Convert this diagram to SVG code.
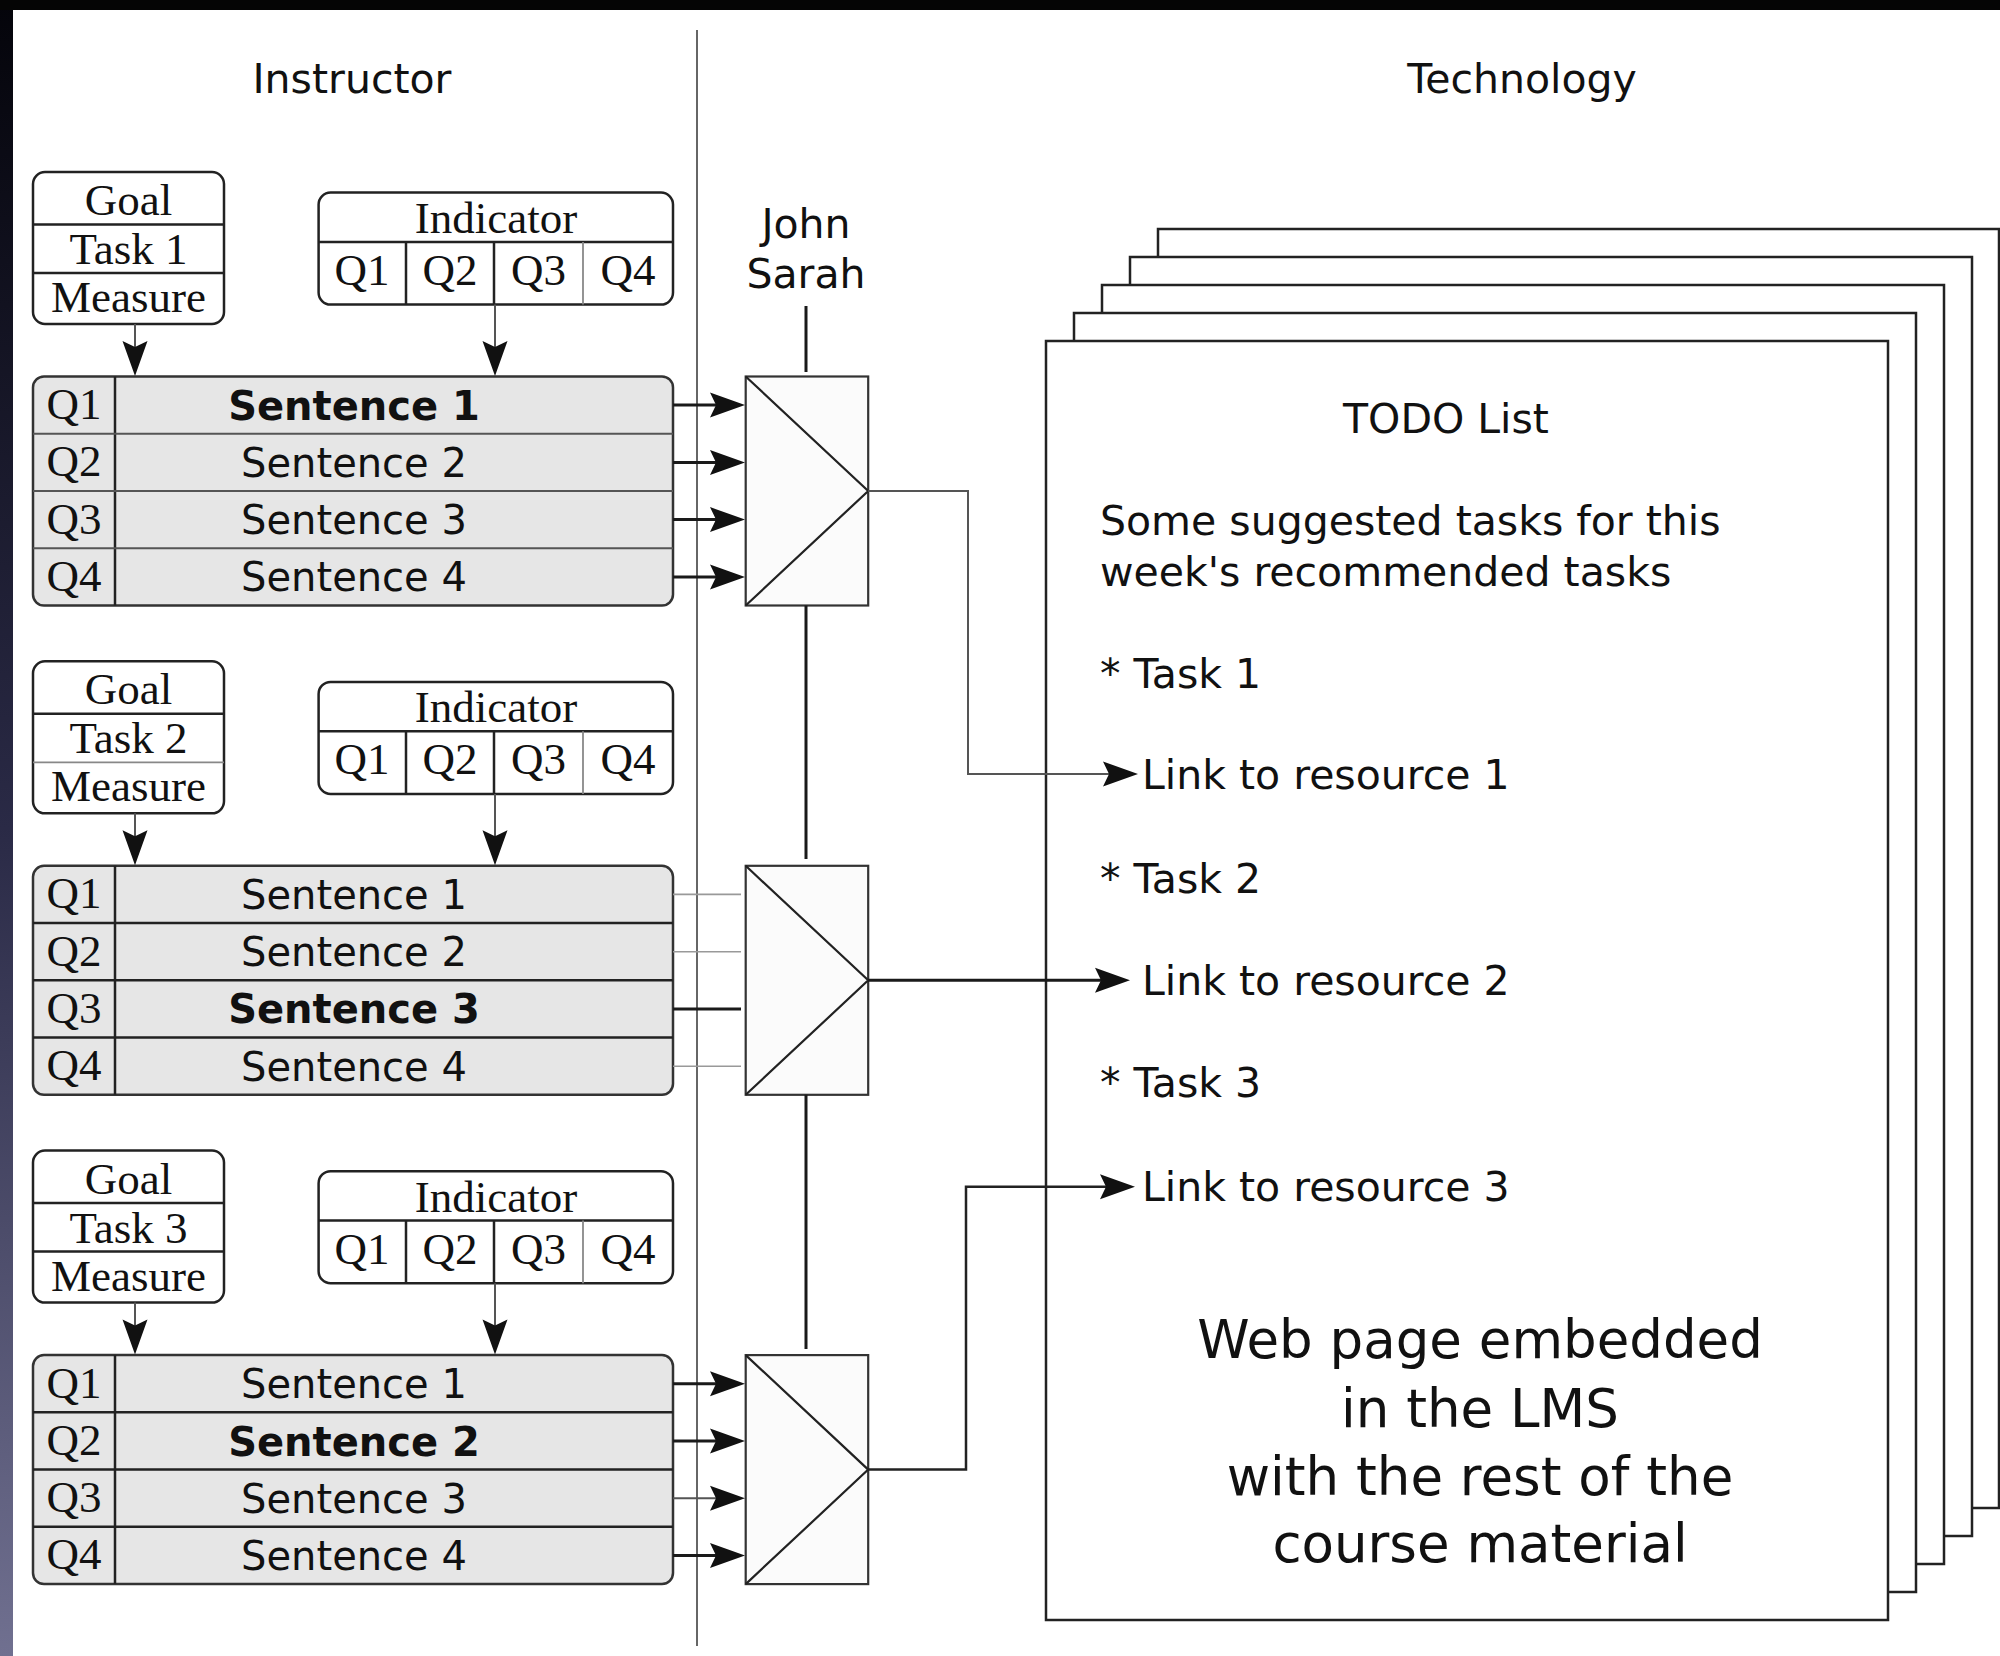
<svg xmlns="http://www.w3.org/2000/svg" width="2000" height="1656" viewBox="0 0 2000 1656">
<defs>
<style>
.sans{font-family:"DejaVu Sans",Verdana,sans-serif;fill:#111}
.serif{font-family:"Liberation Serif","Times New Roman",serif;font-size:45px;fill:#111}
.hdr{font-size:41px}
.sent{font-size:40px}
.big{font-size:53px}
.mid{text-anchor:middle}
.b{font-weight:bold}
.card{fill:#fff;stroke:#222;stroke-width:2.5}
.rule{stroke:#222;stroke-width:2.5;fill:none}
.soft{stroke:#888;stroke-width:1.8;fill:none}
.sbox{fill:#e6e6e6;stroke:#333;stroke-width:2.5}
.mux{fill:#fbfbfb;stroke:#333;stroke-width:2.2}
.tri{fill:none;stroke:#222;stroke-width:2.2}
.wire{stroke:#1a1a1a;stroke-width:3;fill:none}
.mwire{stroke:#222;stroke-width:2.5;fill:none}
.thin{stroke:#555;stroke-width:2;fill:none}
.faint{stroke:#999;stroke-width:1.6;fill:none}
.page{fill:#fff;stroke:#222;stroke-width:2.5}
</style>
<marker id="arr" markerUnits="userSpaceOnUse" viewBox="-30 -14 40 28" refX="0" refY="0" markerWidth="40" markerHeight="28" orient="auto">
<path d="M8,0 L-27,-12.5 L-21,0 L-27,12.5 Z" fill="#111"/>
</marker>
<linearGradient id="edge" x1="0" y1="0" x2="0" y2="1">
<stop offset="0" stop-color="#04040a"/>
<stop offset="0.5" stop-color="#2a2a46"/>
<stop offset="1" stop-color="#707090"/>
</linearGradient>
</defs>

<rect x="0" y="0" width="2000" height="1656" fill="#fff"/>
<rect x="0" y="0" width="13" height="1656" fill="url(#edge)"/>
<rect x="0" y="0" width="2000" height="10" fill="#050505"/>

<!-- lane headers and divider -->
<g id="lanes">
<line x1="697" y1="30" x2="697" y2="1646" stroke="#666" stroke-width="2"/>
<text class="sans hdr mid" x="352" y="93">Instructor</text>
<text class="sans hdr mid" x="1522" y="93">Technology</text>
</g>

<!-- stack of web pages -->
<g id="pages">
<rect class="page" x="1158" y="229" width="841" height="1279"/>
<rect class="page" x="1130" y="257" width="842" height="1279"/>
<rect class="page" x="1102" y="285" width="842" height="1279"/>
<rect class="page" x="1074" y="313" width="842" height="1279"/>
<rect class="page" x="1046" y="341" width="842" height="1279"/>
<text class="sans hdr mid" x="1446" y="433">TODO List</text>
<text class="sans hdr" x="1100" y="535">Some suggested tasks for this</text>
<text class="sans hdr" x="1100" y="586">week's recommended tasks</text>
<text class="sans hdr" x="1100" y="688">* Task 1</text>
<text class="sans hdr" x="1142" y="789">Link to resource 1</text>
<text class="sans hdr" x="1100" y="893">* Task 2</text>
<text class="sans hdr" x="1142" y="995">Link to resource 2</text>
<text class="sans hdr" x="1100" y="1097">* Task 3</text>
<text class="sans hdr" x="1142" y="1201">Link to resource 3</text>
<text class="sans big mid" x="1480" y="1358">Web page embedded</text>
<text class="sans big mid" x="1480" y="1427">in the LMS</text>
<text class="sans big mid" x="1480" y="1495">with the rest of the</text>
<text class="sans big mid" x="1480" y="1562">course material</text>
</g>

<!-- student selector label -->
<g id="students">
<text class="sans hdr mid" x="806" y="238">John</text>
<text class="sans hdr mid" x="806" y="288">Sarah</text>
</g>

<!-- ===== task 1 ===== -->
<g id="goal1">
<rect class="card" x="33" y="172" width="191" height="152" rx="12"/>
<path class="rule" d="M33,224.5 H224 M33,273 H224"/>
<text class="serif mid" x="128.5" y="215">Goal</text>
<text class="serif mid" x="128.5" y="264">Task 1</text>
<text class="serif mid" x="128.5" y="312">Measure</text>
</g>
<g id="indicator1">
<rect class="card" x="318.6" y="192.6" width="354.4" height="112" rx="12"/>
<path class="rule" d="M318.6,242 H673 M406,242 V304.6 M494,242 V304.6"/>
<path class="soft" d="M583,242 V304.6"/>
<text class="serif mid" x="496" y="233">Indicator</text>
<text class="serif mid" x="362" y="285">Q1</text>
<text class="serif mid" x="450" y="285">Q2</text>
<text class="serif mid" x="538.5" y="285">Q3</text>
<text class="serif mid" x="628" y="285">Q4</text>
</g>
<g id="sentences1">
<rect class="sbox" x="33" y="376.5" width="640" height="229" rx="11"/>
<path class="rule" d="M115,376.5 V605.5"/>
<path class="thin" d="M33,433.75 H673 M33,491 H673 M33,548.25 H673"/>
<text class="serif mid" x="74" y="419">Q1</text>
<text class="serif mid" x="74" y="476.3">Q2</text>
<text class="serif mid" x="74" y="533.5">Q3</text>
<text class="serif mid" x="74" y="590.8">Q4</text>
<text class="sans sent mid b" x="354" y="419.6">Sentence 1</text>
<text class="sans sent mid" x="354" y="476.9">Sentence 2</text>
<text class="sans sent mid" x="354" y="534.1">Sentence 3</text>
<text class="sans sent mid" x="354" y="591.4">Sentence 4</text>
</g>
<g id="mux1">
<rect class="mux" x="745.7" y="376.5" width="122.5" height="229"/>
<polyline class="tri" points="745.7,376.5 868.2,491 745.7,605.5"/>
</g>

<!-- ===== task 2 ===== -->
<g id="goal2">
<rect class="card" x="33" y="661.3" width="191" height="152" rx="12"/>
<path class="rule" d="M33,713.8 H224"/>
<path class="soft" d="M33,762.3 H224"/>
<text class="serif mid" x="128.5" y="704.3">Goal</text>
<text class="serif mid" x="128.5" y="753.3">Task 2</text>
<text class="serif mid" x="128.5" y="801.3">Measure</text>
</g>
<g id="indicator2">
<rect class="card" x="318.6" y="681.9" width="354.4" height="112" rx="12"/>
<path class="rule" d="M318.6,731.3 H673 M406,731.3 V793.9 M494,731.3 V793.9"/>
<path class="soft" d="M583,731.3 V793.9"/>
<text class="serif mid" x="496" y="722.3">Indicator</text>
<text class="serif mid" x="362" y="774.3">Q1</text>
<text class="serif mid" x="450" y="774.3">Q2</text>
<text class="serif mid" x="538.5" y="774.3">Q3</text>
<text class="serif mid" x="628" y="774.3">Q4</text>
</g>
<g id="sentences2">
<rect class="sbox" x="33" y="865.8" width="640" height="229" rx="11"/>
<path class="rule" d="M115,865.8 V1094.8 M33,923.05 H673 M33,980.3 H673 M33,1037.55 H673"/>
<text class="serif mid" x="74" y="908.3">Q1</text>
<text class="serif mid" x="74" y="965.6">Q2</text>
<text class="serif mid" x="74" y="1022.8">Q3</text>
<text class="serif mid" x="74" y="1080.1">Q4</text>
<text class="sans sent mid" x="354" y="908.9">Sentence 1</text>
<text class="sans sent mid" x="354" y="966.2">Sentence 2</text>
<text class="sans sent mid b" x="354" y="1023.4">Sentence 3</text>
<text class="sans sent mid" x="354" y="1080.7">Sentence 4</text>
</g>
<g id="mux2">
<rect class="mux" x="745.7" y="865.8" width="122.5" height="229"/>
<polyline class="tri" points="745.7,865.8 868.2,980.3 745.7,1094.8"/>
</g>

<!-- ===== task 3 ===== -->
<g id="goal3">
<rect class="card" x="33" y="1150.6" width="191" height="152" rx="12"/>
<path class="rule" d="M33,1203.1 H224 M33,1251.6 H224"/>
<text class="serif mid" x="128.5" y="1193.6">Goal</text>
<text class="serif mid" x="128.5" y="1242.6">Task 3</text>
<text class="serif mid" x="128.5" y="1290.6">Measure</text>
</g>
<g id="indicator3">
<rect class="card" x="318.6" y="1171.2" width="354.4" height="112" rx="12"/>
<path class="rule" d="M318.6,1220.6 H673 M406,1220.6 V1283.2 M494,1220.6 V1283.2"/>
<path class="soft" d="M583,1220.6 V1283.2"/>
<text class="serif mid" x="496" y="1211.6">Indicator</text>
<text class="serif mid" x="362" y="1263.6">Q1</text>
<text class="serif mid" x="450" y="1263.6">Q2</text>
<text class="serif mid" x="538.5" y="1263.6">Q3</text>
<text class="serif mid" x="628" y="1263.6">Q4</text>
</g>
<g id="sentences3">
<rect class="sbox" x="33" y="1355.1" width="640" height="229" rx="11"/>
<path class="rule" d="M115,1355.1 V1584.1 M33,1412.35 H673 M33,1469.6 H673 M33,1526.85 H673"/>
<text class="serif mid" x="74" y="1397.6">Q1</text>
<text class="serif mid" x="74" y="1454.9">Q2</text>
<text class="serif mid" x="74" y="1512.1">Q3</text>
<text class="serif mid" x="74" y="1569.4">Q4</text>
<text class="sans sent mid" x="354" y="1398.2">Sentence 1</text>
<text class="sans sent mid b" x="354" y="1455.5">Sentence 2</text>
<text class="sans sent mid" x="354" y="1512.7">Sentence 3</text>
<text class="sans sent mid" x="354" y="1570">Sentence 4</text>
</g>
<g id="mux3">
<rect class="mux" x="745.7" y="1355.1" width="122.5" height="229"/>
<polyline class="tri" points="745.7,1355.1 868.2,1469.6 745.7,1584.1"/>
</g>

<!-- connectors -->
<g id="connectors">
<!-- goal / indicator into sentence tables -->
<path class="thin" d="M135,324 V368" marker-end="url(#arr)"/>
<path class="thin" d="M495,304.6 V368" marker-end="url(#arr)"/>
<path class="thin" d="M135,813.3 V857.3" marker-end="url(#arr)"/>
<path class="thin" d="M495,793.9 V857.3" marker-end="url(#arr)"/>
<path class="thin" d="M135,1302.6 V1346.6" marker-end="url(#arr)"/>
<path class="thin" d="M495,1283.2 V1346.6" marker-end="url(#arr)"/>
<!-- sentences into selectors -->
<path class="wire" d="M673,405.1 H737" marker-end="url(#arr)"/>
<path class="wire" d="M673,462.4 H737" marker-end="url(#arr)"/>
<path class="wire" d="M673,519.6 H737" marker-end="url(#arr)"/>
<path class="wire" d="M673,576.9 H737" marker-end="url(#arr)"/>
<path class="faint" d="M673,894.4 H741 M673,951.7 H741 M673,1066.2 H741"/>
<path class="wire" d="M673,1008.9 H741"/>
<path class="wire" d="M673,1383.7 H737" marker-end="url(#arr)"/>
<path class="wire" d="M673,1441 H737" marker-end="url(#arr)"/>
<path class="thin" d="M673,1498.2 H737" marker-end="url(#arr)"/>
<path class="wire" d="M673,1555.5 H737" marker-end="url(#arr)"/>
<!-- student bus -->
<path class="wire" d="M806,306 V372 M806,605.5 V859 M806,1094.8 V1349"/>
<!-- selector outputs to links -->
<polyline class="thin" points="868.2,491 968,491 968,774 1130,774" marker-end="url(#arr)"/>
<polyline class="wire" points="868.2,980.3 1122,980.3" marker-end="url(#arr)"/>
<polyline class="mwire" points="868.2,1469.6 966,1469.6 966,1186.7 1127,1186.7" marker-end="url(#arr)"/>
</g>
</svg>
